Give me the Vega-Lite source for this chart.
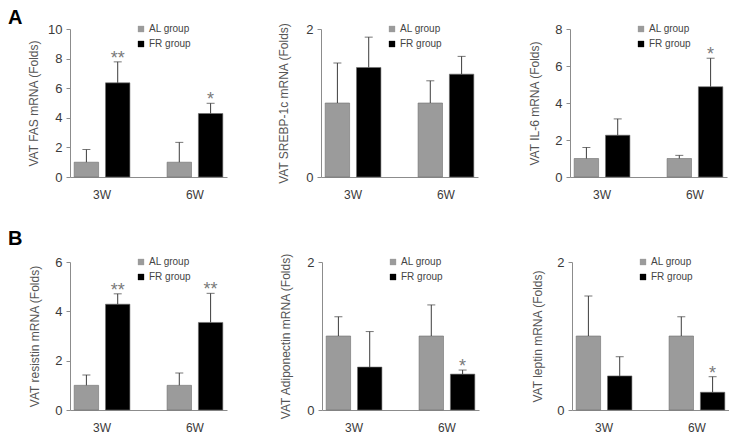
{
  "$schema": "https://vega.github.io/schema/vega-lite/v6.json",
  "description": "VAT mRNA expression, AL vs FR groups at 3W and 6W",
  "padding": {"left": 8, "top": 8, "right": 0, "bottom": 0},
  "background": "white",
  "datasets": {
    "expr": [
      {"panel": "FAS", "week": "3W", "group": "AL group", "mean": 1.0, "upper": 1.85, "sig": ""},
      {"panel": "FAS", "week": "3W", "group": "FR group", "mean": 6.36, "upper": 7.78, "sig": "**"},
      {"panel": "FAS", "week": "6W", "group": "AL group", "mean": 1.0, "upper": 2.34, "sig": ""},
      {"panel": "FAS", "week": "6W", "group": "FR group", "mean": 4.29, "upper": 4.98, "sig": "*"},
      {"panel": "SREBP", "week": "3W", "group": "AL group", "mean": 1.0, "upper": 1.54, "sig": ""},
      {"panel": "SREBP", "week": "3W", "group": "FR group", "mean": 1.48, "upper": 1.89, "sig": ""},
      {"panel": "SREBP", "week": "6W", "group": "AL group", "mean": 1.0, "upper": 1.30, "sig": ""},
      {"panel": "SREBP", "week": "6W", "group": "FR group", "mean": 1.39, "upper": 1.63, "sig": ""},
      {"panel": "IL6", "week": "3W", "group": "AL group", "mean": 1.0, "upper": 1.6, "sig": ""},
      {"panel": "IL6", "week": "3W", "group": "FR group", "mean": 2.26, "upper": 3.14, "sig": ""},
      {"panel": "IL6", "week": "6W", "group": "AL group", "mean": 1.0, "upper": 1.17, "sig": ""},
      {"panel": "IL6", "week": "6W", "group": "FR group", "mean": 4.88, "upper": 6.42, "sig": "*"},
      {"panel": "resistin", "week": "3W", "group": "AL group", "mean": 1.0, "upper": 1.42, "sig": ""},
      {"panel": "resistin", "week": "3W", "group": "FR group", "mean": 4.29, "upper": 4.71, "sig": "**"},
      {"panel": "resistin", "week": "6W", "group": "AL group", "mean": 1.0, "upper": 1.5, "sig": ""},
      {"panel": "resistin", "week": "6W", "group": "FR group", "mean": 3.55, "upper": 4.73, "sig": "**"},
      {"panel": "adipo", "week": "3W", "group": "AL group", "mean": 1.0, "upper": 1.26, "sig": ""},
      {"panel": "adipo", "week": "3W", "group": "FR group", "mean": 0.58, "upper": 1.06, "sig": ""},
      {"panel": "adipo", "week": "6W", "group": "AL group", "mean": 1.0, "upper": 1.42, "sig": ""},
      {"panel": "adipo", "week": "6W", "group": "FR group", "mean": 0.485, "upper": 0.54, "sig": "*"},
      {"panel": "leptin", "week": "3W", "group": "AL group", "mean": 1.0, "upper": 1.54, "sig": ""},
      {"panel": "leptin", "week": "3W", "group": "FR group", "mean": 0.46, "upper": 0.72, "sig": ""},
      {"panel": "leptin", "week": "6W", "group": "AL group", "mean": 1.0, "upper": 1.26, "sig": ""},
      {"panel": "leptin", "week": "6W", "group": "FR group", "mean": 0.24, "upper": 0.45, "sig": "*"}
    ]
  },
  "data": {"name": "expr"},
  "vconcat": [
    {
      "title": {"text": "A", "anchor": "start", "frame": "group", "fontSize": 20, "fontWeight": "bold", "color": "black", "dx": -62, "dy": -1, "offset": -7},
      "spacing": 50,
      "resolve": {"scale": {"color": "independent", "y": "independent"}, "legend": {"color": "independent"}},
      "hconcat": [
        {
          "width": 157, "height": 148,
          "transform": [{"filter": "datum.panel === 'FAS'"}],
          "encoding": {
            "x": {"field": "week", "type": "nominal", "scale": {"paddingInner": 0.4, "paddingOuter": 0.045}, "title": null},
            "xOffset": {"field": "group", "type": "nominal", "scale": {"paddingInner": 0.22, "paddingOuter": 0}},
            "y": {"field": "mean", "type": "quantitative", "scale": {"domain": [0, 10]}, "axis": {"values": [0, 2, 4, 6, 8, 10], "format": "d", "titlePadding": 7}, "title": "VAT FAS mRNA (Folds)"}
          },
          "layer": [
            {"mark": {"type": "bar", "stroke": "#6e6e6e", "strokeWidth": 0.6},
             "encoding": {"color": {"field": "group", "type": "nominal", "scale": {"domain": ["AL group", "FR group"], "range": ["#9b9b9b", "#000000"]}}}},
            {"mark": {"type": "rule", "color": "#3c3c3c", "strokeWidth": 1}, "encoding": {"y2": {"field": "upper"}}},
            {"mark": {"type": "tick", "color": "#3c3c3c", "size": 8, "thickness": 1}, "encoding": {"y": {"field": "upper", "type": "quantitative"}}},
            {"mark": {"type": "text", "fontSize": 18, "color": "#7a7a7a", "baseline": "alphabetic", "dy": 2}, "encoding": {"y": {"field": "upper", "type": "quantitative"}, "text": {"field": "sig"}}}
          ]
        },
        {
          "width": 157, "height": 148,
          "transform": [{"filter": "datum.panel === 'SREBP'"}],
          "encoding": {
            "x": {"field": "week", "type": "nominal", "scale": {"paddingInner": 0.4, "paddingOuter": 0.045}, "title": null},
            "xOffset": {"field": "group", "type": "nominal", "scale": {"paddingInner": 0.22, "paddingOuter": 0}},
            "y": {"field": "mean", "type": "quantitative", "scale": {"domain": [0, 2]}, "axis": {"values": [0, 1, 2], "format": "d", "titlePadding": 15}, "title": "VAT SREBP-1c mRNA (Folds)"}
          },
          "layer": [
            {"mark": {"type": "bar", "stroke": "#6e6e6e", "strokeWidth": 0.6},
             "encoding": {"color": {"field": "group", "type": "nominal", "scale": {"domain": ["AL group", "FR group"], "range": ["#9b9b9b", "#000000"]}}}},
            {"mark": {"type": "rule", "color": "#3c3c3c", "strokeWidth": 1}, "encoding": {"y2": {"field": "upper"}}},
            {"mark": {"type": "tick", "color": "#3c3c3c", "size": 8, "thickness": 1}, "encoding": {"y": {"field": "upper", "type": "quantitative"}}},
            {"mark": {"type": "text", "fontSize": 18, "color": "#7a7a7a", "baseline": "alphabetic", "dy": 2}, "encoding": {"y": {"field": "upper", "type": "quantitative"}, "text": {"field": "sig"}}}
          ]
        },
        {
          "width": 157, "height": 148,
          "transform": [{"filter": "datum.panel === 'IL6'"}],
          "encoding": {
            "x": {"field": "week", "type": "nominal", "scale": {"paddingInner": 0.4, "paddingOuter": 0.045}, "title": null},
            "xOffset": {"field": "group", "type": "nominal", "scale": {"paddingInner": 0.22, "paddingOuter": 0}},
            "y": {"field": "mean", "type": "quantitative", "scale": {"domain": [0, 8]}, "axis": {"values": [0, 2, 4, 6, 8], "format": "d", "titlePadding": 13}, "title": "VAT IL-6 mRNA (Folds)"}
          },
          "layer": [
            {"mark": {"type": "bar", "stroke": "#6e6e6e", "strokeWidth": 0.6},
             "encoding": {"color": {"field": "group", "type": "nominal", "scale": {"domain": ["AL group", "FR group"], "range": ["#9b9b9b", "#000000"]}}}},
            {"mark": {"type": "rule", "color": "#3c3c3c", "strokeWidth": 1}, "encoding": {"y2": {"field": "upper"}}},
            {"mark": {"type": "tick", "color": "#3c3c3c", "size": 8, "thickness": 1}, "encoding": {"y": {"field": "upper", "type": "quantitative"}}},
            {"mark": {"type": "text", "fontSize": 18, "color": "#7a7a7a", "baseline": "alphabetic", "dy": 2}, "encoding": {"y": {"field": "upper", "type": "quantitative"}, "text": {"field": "sig"}}}
          ]
        }
      ]
    },
    {
      "title": {"text": "B", "anchor": "start", "frame": "group", "fontSize": 20, "fontWeight": "bold", "color": "black", "dx": -62, "dy": 1, "offset": 5},
      "spacing": 52,
      "resolve": {"scale": {"color": "independent", "y": "independent"}, "legend": {"color": "independent"}},
      "hconcat": [
        {
          "width": 157, "height": 148,
          "transform": [{"filter": "datum.panel === 'resistin'"}],
          "encoding": {
            "x": {"field": "week", "type": "nominal", "scale": {"paddingInner": 0.4, "paddingOuter": 0.045}, "title": null},
            "xOffset": {"field": "group", "type": "nominal", "scale": {"paddingInner": 0.22, "paddingOuter": 0}},
            "y": {"field": "mean", "type": "quantitative", "scale": {"domain": [0, 6]}, "axis": {"values": [0, 2, 4, 6], "format": "d", "titlePadding": 13}, "title": "VAT resistin mRNA (Folds)"}
          },
          "layer": [
            {"mark": {"type": "bar", "stroke": "#6e6e6e", "strokeWidth": 0.6},
             "encoding": {"color": {"field": "group", "type": "nominal", "scale": {"domain": ["AL group", "FR group"], "range": ["#9b9b9b", "#000000"]}}}},
            {"mark": {"type": "rule", "color": "#3c3c3c", "strokeWidth": 1}, "encoding": {"y2": {"field": "upper"}}},
            {"mark": {"type": "tick", "color": "#3c3c3c", "size": 8, "thickness": 1}, "encoding": {"y": {"field": "upper", "type": "quantitative"}}},
            {"mark": {"type": "text", "fontSize": 18, "color": "#7a7a7a", "baseline": "alphabetic", "dy": 2}, "encoding": {"y": {"field": "upper", "type": "quantitative"}, "text": {"field": "sig"}}}
          ]
        },
        {
          "width": 157, "height": 148,
          "transform": [{"filter": "datum.panel === 'adipo'"}],
          "encoding": {
            "x": {"field": "week", "type": "nominal", "scale": {"paddingInner": 0.4, "paddingOuter": 0.045}, "title": null},
            "xOffset": {"field": "group", "type": "nominal", "scale": {"paddingInner": 0.22, "paddingOuter": 0}},
            "y": {"field": "mean", "type": "quantitative", "scale": {"domain": [0, 2]}, "axis": {"values": [0, 1, 2], "format": "d", "titlePadding": 14}, "title": "VAT Adiponectin mRNA (Folds)"}
          },
          "layer": [
            {"mark": {"type": "bar", "stroke": "#6e6e6e", "strokeWidth": 0.6},
             "encoding": {"color": {"field": "group", "type": "nominal", "scale": {"domain": ["AL group", "FR group"], "range": ["#9b9b9b", "#000000"]}}}},
            {"mark": {"type": "rule", "color": "#3c3c3c", "strokeWidth": 1}, "encoding": {"y2": {"field": "upper"}}},
            {"mark": {"type": "tick", "color": "#3c3c3c", "size": 8, "thickness": 1}, "encoding": {"y": {"field": "upper", "type": "quantitative"}}},
            {"mark": {"type": "text", "fontSize": 18, "color": "#7a7a7a", "baseline": "alphabetic", "dy": 2}, "encoding": {"y": {"field": "upper", "type": "quantitative"}, "text": {"field": "sig"}}}
          ]
        },
        {
          "width": 157, "height": 148,
          "transform": [{"filter": "datum.panel === 'leptin'"}],
          "encoding": {
            "x": {"field": "week", "type": "nominal", "scale": {"paddingInner": 0.4, "paddingOuter": 0.045}, "title": null},
            "xOffset": {"field": "group", "type": "nominal", "scale": {"paddingInner": 0.22, "paddingOuter": 0}},
            "y": {"field": "mean", "type": "quantitative", "scale": {"domain": [0, 2]}, "axis": {"values": [0, 1, 2], "format": "d", "titlePadding": 12}, "title": "VAT leptin mRNA (Folds)"}
          },
          "layer": [
            {"mark": {"type": "bar", "stroke": "#6e6e6e", "strokeWidth": 0.6},
             "encoding": {"color": {"field": "group", "type": "nominal", "scale": {"domain": ["AL group", "FR group"], "range": ["#9b9b9b", "#000000"]}}}},
            {"mark": {"type": "rule", "color": "#3c3c3c", "strokeWidth": 1}, "encoding": {"y2": {"field": "upper"}}},
            {"mark": {"type": "tick", "color": "#3c3c3c", "size": 8, "thickness": 1}, "encoding": {"y": {"field": "upper", "type": "quantitative"}}},
            {"mark": {"type": "text", "fontSize": 18, "color": "#7a7a7a", "baseline": "alphabetic", "dy": 2}, "encoding": {"y": {"field": "upper", "type": "quantitative"}, "text": {"field": "sig"}}}
          ]
        }
      ]
    }
  ],
  "spacing": 28,
  "resolve": {"scale": {"color": "independent"}, "legend": {"color": "independent"}},
  "config": {
    "view": {"stroke": null},
    "font": "Liberation Sans",
    "axis": {"grid": false, "domainColor": "#8c8c8c", "tickColor": "#8c8c8c", "labelColor": "#3a3a3a", "labelFont": "Liberation Sans", "titleFont": "Liberation Sans", "titleFontWeight": "normal", "titleColor": "#555555"},
    "axisX": {"ticks": false, "labelFontSize": 12, "labelPadding": 12, "labelAngle": 0},
    "axisY": {"labelFontSize": 13, "tickSize": 4, "labelPadding": 4, "titleFontSize": 12},
    "legend": {"orient": "none", "legendX": 66, "legendY": -5, "title": null, "symbolType": "square", "symbolSize": 40, "symbolStrokeWidth": 0, "labelFontSize": 10, "labelColor": "#444444", "labelOffset": 3, "rowPadding": 5, "padding": 0}
  }
}
